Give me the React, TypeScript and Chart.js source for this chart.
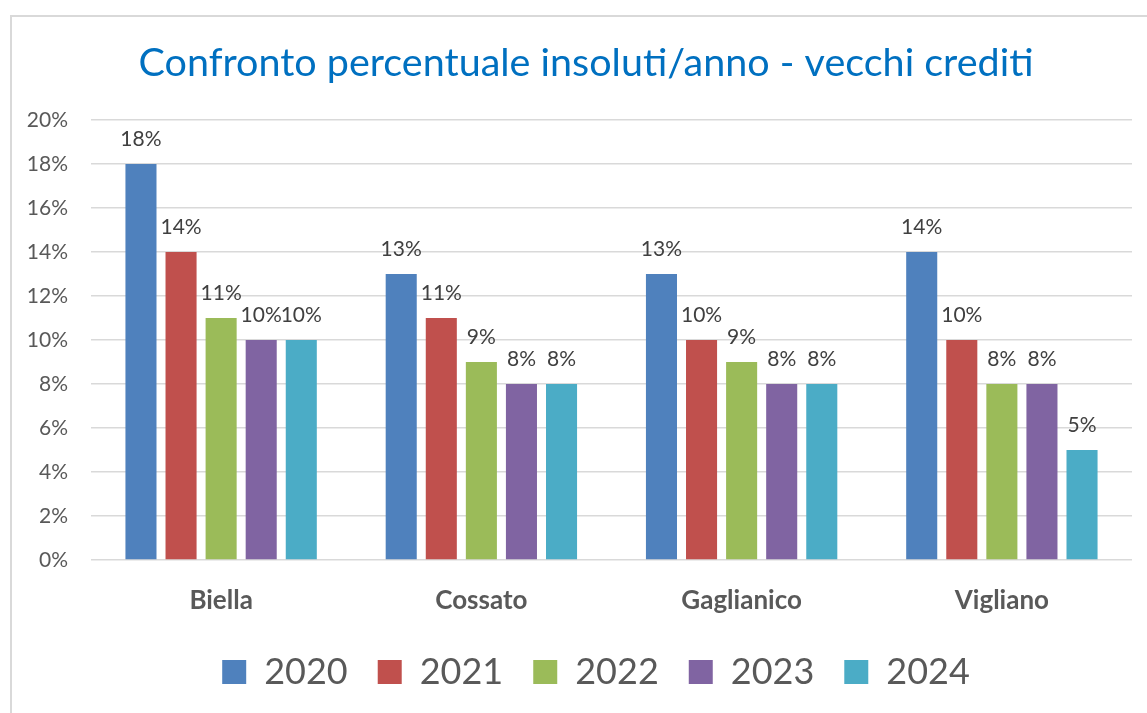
import React, { useEffect, useRef } from "react";
import { Chart, registerables } from "chart.js";

Chart.register(...registerables);

const categories = ["Biella", "Cossato", "Gaglianico", "Vigliano"];
const years = ["2020", "2021", "2022", "2023", "2024"];
const values2020 = [18, 13, 13, 14];
const values2021 = [14, 11, 10, 10];
const values2022 = [11, 9, 9, 8];
const values2023 = [10, 8, 8, 8];
const values2024 = [10, 8, 8, 5];
const colors = ["#4F81BD", "#C0504D", "#9BBB59", "#8064A2", "#4BACC6"];
const yTicks = [0, 2, 4, 6, 8, 10, 12, 14, 16, 18, 20];
const titleText = "Confronto percentuale insoluti/anno - vecchi crediti";

const FONT = "Lato, 'Open Sans', sans-serif";

const dataLabels = {
  id: "dataLabels",
  afterDatasetsDraw(chart: any) {
    const ctx = chart.ctx;
    ctx.save();
    ctx.font = `21px ${FONT}`;
    ctx.fillStyle = "#404040";
    ctx.textAlign = "center";
    ctx.textBaseline = "middle";
    chart.data.datasets.forEach((ds: any, i: number) => {
      const meta = chart.getDatasetMeta(i);
      meta.data.forEach((bar: any, j: number) => {
        ctx.fillText(ds.data[j] + "%", bar.x, bar.y - 25);
      });
    });
    ctx.restore();
  },
};

const shiftBoxes = {
  id: "shiftBoxes",
  afterLayout(chart: any) {
    const lg = chart.legend;
    if (lg) {
      lg.left += 24;
      lg.right += 24;
      lg.top -= 8;
      lg.bottom -= 8;
    }
    const tt = chart.titleBlock;
    if (tt) {
      tt.left += 14;
      tt.right += 14;
    }
  },
};

export default function App() {
  const ref = useRef<HTMLCanvasElement>(null);
  useEffect(() => {
    const seriesValues = [values2020, values2021, values2022, values2023, values2024];
    const chart = new Chart(ref.current!, {
      type: "bar",
      data: {
        labels: categories,
        datasets: years.map((y, i) => ({
          label: y,
          data: seriesValues[i],
          backgroundColor: colors[i],
          borderWidth: 0,
          categoryPercentage: 0.77,
          barPercentage: 0.775,
        })),
      },
      options: {
        animation: false,
        responsive: false,
        layout: { padding: { left: 0, right: 28, top: 0, bottom: 13 } },
        plugins: {
          title: {
            display: true,
            text: titleText,
            color: "#0070C0",
            font: { family: FONT, size: 39.5, weight: "normal", lineHeight: 1.2 },
            padding: { top: 22.3, bottom: 33.3 },
          },
          legend: {
            position: "bottom",
            labels: {
              boxWidth: 24,
              boxHeight: 24,
              color: "#595959",
              font: { family: FONT, size: 36 },
              padding: 30,
            },
          },
          tooltip: { enabled: false },
        },
        scales: {
          x: {
            grid: { display: false },
            border: { display: false },
            ticks: {
              color: "#595959",
              font: { family: FONT, size: 26, weight: "bold" },
              padding: 17,
            },
            afterFit(scale: any) {
              scale.height = 72;
            },
          },
          y: {
            min: 0,
            max: 20,
            afterBuildTicks(scale: any) {
              scale.ticks = yTicks.map((v) => ({ value: v }));
            },
            grid: { color: "#D9D9D9", lineWidth: 1.5, drawTicks: false },
            border: { display: false },
            ticks: {
              color: "#595959",
              font: { family: FONT, size: 21 },
              padding: 23,
              callback: (v: any) => v + "%",
            },
            afterFit(scale: any) {
              scale.width = 79;
            },
          },
        },
      },
      plugins: [dataLabels, shiftBoxes],
    });
    return () => chart.destroy();
  }, []);

  return (
    <div style={{ position: "fixed", left: 0, top: 0, width: 1147, height: 713, overflow: "hidden", background: "#fff" }}>
      <div
        style={{
          position: "absolute",
          left: 10,
          top: 15,
          width: 1152,
          height: 720,
          border: "2px solid #D9D9D9",
          boxSizing: "border-box",
        }}
      >
        <canvas ref={ref} width={1148} height={704} style={{ display: "block" }} />
      </div>
    </div>
  );
}
